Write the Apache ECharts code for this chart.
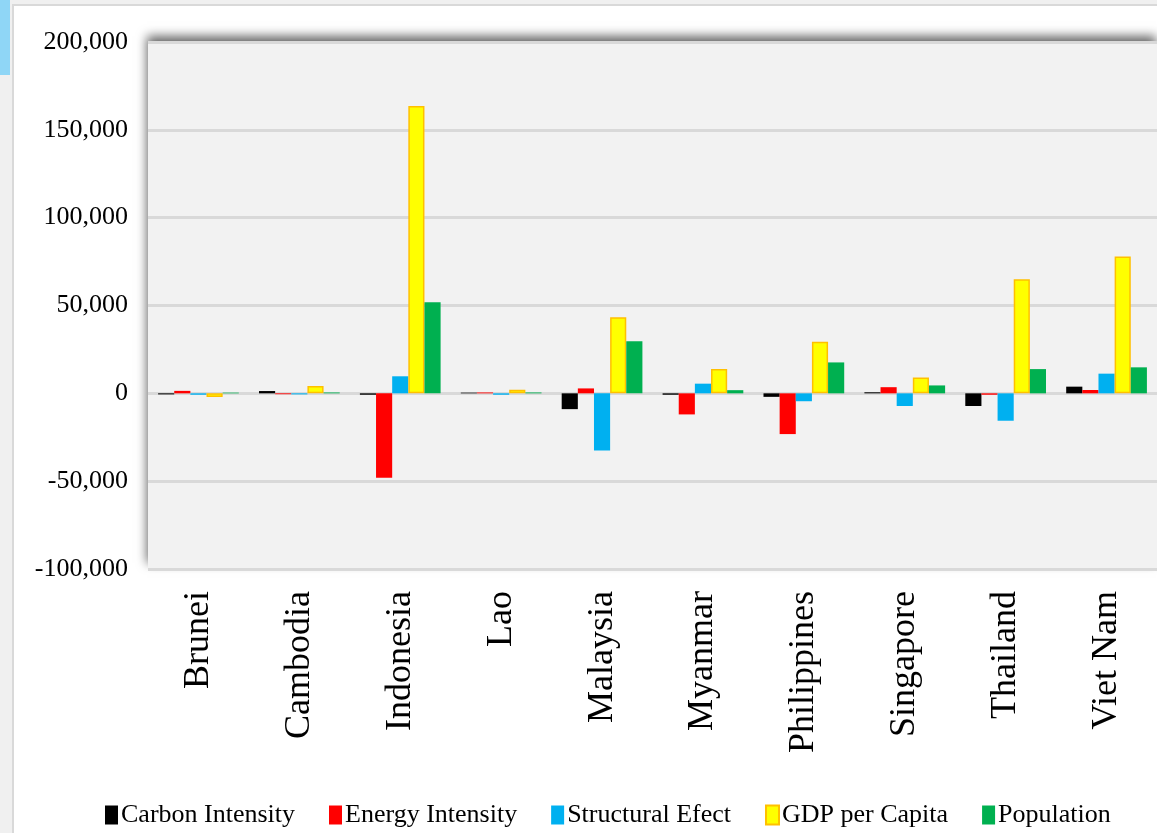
<!DOCTYPE html>
<html lang="en">
<head>
    <meta charset="UTF-8" />
    <title>Decomposition</title>
    <script src="https://cdn.jsdelivr.net/npm/echarts@6/dist/echarts.min.js"></script>
</head>
<style>
    body {
        margin: 0;
        background: #f0f0f0;
        width: 1157px;
        height: 833px;
        overflow: hidden;
        position: relative;
    }

    .strip {
        position: absolute;
        left: 0;
        top: 0;
        width: 10px;
        height: 75px;
        background: #8fd6f6;
    }

    .frame {
        position: absolute;
        left: 12px;
        top: 4px;
        right: 0;
        bottom: 0;
        background: #fff;
        border-left: 2px solid #d9d9d9;
        border-top: 2px solid #d9d9d9;
    }

    #main {
        position: absolute;
        left: 0;
        top: 0;
        width: 1157px;
        height: 833px;
    }
</style>
<body>
    <div class="strip"></div>
    <div class="frame"></div>
    <div id="main"></div>
</body>
<script type="text/javascript">
    var categories = ['Brunei', 'Cambodia', 'Indonesia', 'Lao', 'Malaysia', 'Myanmar', 'Philippines', 'Singapore', 'Thailand', 'Viet Nam'];
    var carbonIntensity = [-600, 1300, -800, 400, -9000, -800, -2000, 600, -7200, 3800];
    var energyIntensity = [1400, -500, -48000, 500, 2800, -12000, -23200, 3500, -800, 1900];
    var structuralEffect = [-800, -600, 9700, -800, -32500, 5500, -4500, -7200, -15600, 11200];
    var gdpPerCapita = [-2100, 4200, 163500, 2100, 43300, 13800, 29400, 9000, 65000, 77900];
    var population = [400, 500, 51800, 500, 29700, 1800, 17600, 4500, 13800, 14800];

    var serif = '"Liberation Serif", "Times New Roman", serif';

    function bar(name, data, color, border) {
        return {
            name: name,
            type: 'bar',
            data: data,
            barGap: 0,
            barCategoryGap: '20%',
            itemStyle: {
                color: color,
                borderColor: border || color,
                borderWidth: border ? 1.5 : 0
            }
        };
    }

    var chart = echarts.init(document.getElementById('main'));
    chart.setOption({
        animation: false,
        textStyle: { fontFamily: serif },
        grid: {
            show: true,
            left: 148,
            right: 0,
            top: 42,
            bottom: 264,
            backgroundColor: '#f2f2f2',
            borderWidth: 0,
            shadowColor: 'rgba(0,0,0,0.6)',
            shadowBlur: 10,
            shadowOffsetX: -1,
            shadowOffsetY: -6
        },
        legend: {
            left: 100,
            top: 797,
            itemWidth: 13,
            itemHeight: 19,
            itemGap: 34,
            icon: 'rect',
            textStyle: {
                fontFamily: serif,
                fontSize: 26,
                color: '#000',
                padding: [0, 0, 0, -2]
            },
            data: ['Carbon Intensity', 'Energy Intensity', 'Structural Efect', 'GDP per Capita', 'Population']
        },
        xAxis: {
            type: 'category',
            data: categories,
            axisLine: { show: false },
            axisTick: { show: false },
            axisLabel: {
                rotate: 90,
                margin: 22,
                fontFamily: serif,
                fontSize: 36,
                color: '#000'
            }
        },
        yAxis: {
            type: 'value',
            min: -100000,
            max: 200000,
            interval: 50000,
            axisLine: { show: false },
            axisTick: { show: false },
            splitLine: { lineStyle: { color: '#d9d9d9', width: 3 } },
            axisLabel: {
                margin: 20,
                fontFamily: serif,
                fontSize: 26,
                color: '#000',
                formatter: function (v) {
                    return v.toLocaleString('en-US');
                }
            }
        },
        series: [
            bar('Carbon Intensity', carbonIntensity, '#000000'),
            bar('Energy Intensity', energyIntensity, '#ff0000'),
            bar('Structural Efect', structuralEffect, '#00b0f0'),
            bar('GDP per Capita', gdpPerCapita, '#ffff00', '#ffc000'),
            bar('Population', population, '#00b050')
        ]
    });
</script>
</html>
